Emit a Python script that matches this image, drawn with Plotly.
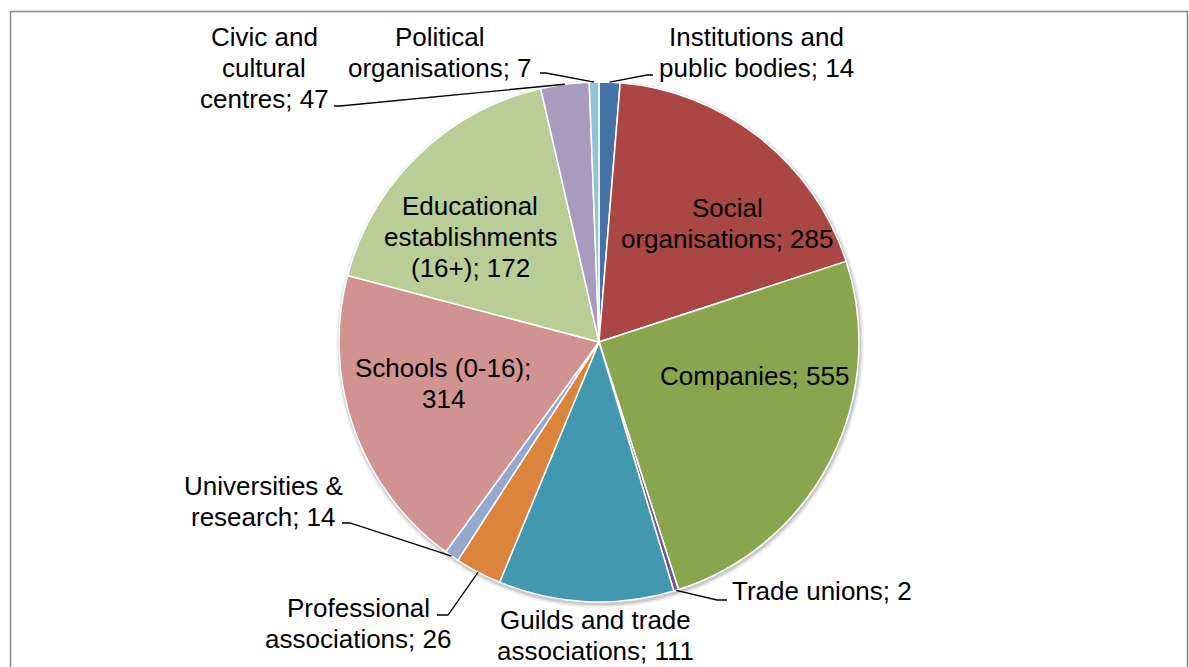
import textwrap
import math
import plotly.graph_objects as go

# ---------------- data ----------------
categories = [
    "Institutions and public bodies",
    "Social organisations",
    "Companies",
    "Trade unions",
    "Guilds and trade associations",
    "Professional associations",
    "Universities & research",
    "Schools (0-16)",
    "Educational establishments (16+)",
    "Civic and cultural centres",
    "Political organisations",
]
# numbers printed in the data labels
counts = [14, 285, 555, 2, 111, 26, 14, 314, 172, 47, 7]
# slice sizes as drawn in the picture (percent of the circle)
shares = [1.3, 18.7, 25.1, 0.3, 10.9, 2.9, 0.9, 19.1, 17.3, 3.0, 0.6]

colors = ["#4572A7", "#AA4643", "#89A54E", "#71588F", "#4198AF", "#DB843D",
          "#93A9CF", "#D19392", "#B9CD96", "#A99BBD", "#92C3D4"]

# ---------------- layout (pixels) ----------------
W, H = 1189, 667
CX, CY, R = 599, 342, 260
FONT = dict(family="Liberation Sans, Arial, sans-serif", size=26, color="black")
LINE_STEP = 31

# label placement: wrap width, anchor x, first-line centre y, xanchor, leader points (label side)
label_layout = [
    dict(wrap=17, x=756, y=37, xa="center", lead=[(653, 75), (647, 75)]),
    dict(wrap=18, x=727, y=208, xa="center", lead=None),
    dict(wrap=20, x=754, y=376, xa="center", lead=None),
    dict(wrap=20, x=730, y=591, xa="left", lead=[(727, 600), (717, 600)]),
    dict(wrap=17, x=595, y=620, xa="center", lead=None),
    dict(wrap=16, x=358, y=608, xa="center", lead=[(437, 615), (448, 615)]),
    dict(wrap=14, x=263, y=486, xa="center", lead=[(342, 523), (350, 523)]),
    dict(wrap=15, x=443, y=368, xa="center", lead=None),
    dict(wrap=14, x=470, y=206, xa="center", lead=None),
    dict(wrap=11, x=264, y=37, xa="center", lead=[(334, 106), (340, 106)]),
    dict(wrap=16, x=440, y=37, xa="center", lead=[(540, 73), (546, 73)]),
]


def px(x):
    return x / W


def py(y):
    return 1 - y / H


fig = go.Figure()
fig.add_trace(go.Pie(
    labels=categories,
    values=shares,
    customdata=counts,
    sort=False,
    direction="clockwise",
    rotation=0,
    textinfo="none",
    hovertemplate="%{label}; %{customdata}<extra></extra>",
    marker=dict(colors=colors, line=dict(color="white", width=1.5)),
    domain=dict(x=[px(CX - R), px(CX + R)], y=[py(CY + R), py(CY - R)]),
    showlegend=False,
))

annotations = []
shapes = []

# soft shadow behind the pie
for k, a in [(4, 0.05), (2.5, 0.07), (1.2, 0.10)]:
    shapes.append(dict(type="circle", xref="paper", yref="paper", layer="below",
                       x0=px(CX - R - k + 1), x1=px(CX + R + k + 1),
                       y0=py(CY + R + k + 2), y1=py(CY - R - k + 2),
                       line=dict(width=0), fillcolor=f"rgba(0,0,0,{a})"))

total = sum(shares)
cum = 0.0
for name, cnt, sh, lay in zip(categories, counts, shares, label_layout):
    mid = (cum + sh / 2) / total * 2 * math.pi
    cum += sh
    ex = CX + R * math.sin(mid)
    ey = CY - R * math.cos(mid)
    lines = textwrap.wrap(f"{name}; {cnt}", width=lay["wrap"], break_on_hyphens=False)
    for i, ln in enumerate(lines):
        annotations.append(dict(
            text=ln, x=px(lay["x"]), y=py(lay["y"] + i * LINE_STEP),
            xref="paper", yref="paper", xanchor=lay["xa"], yanchor="middle",
            showarrow=False, font=FONT))
    if lay["lead"]:
        pts = lay["lead"] + [(ex, ey)]
        path = "M " + " L ".join(f"{px(x):.5f},{py(y):.5f}" for x, y in pts)
        shapes.append(dict(type="path", xref="paper", yref="paper", path=path,
                           line=dict(color="black", width=1.3)))

# chart frame
shapes.append(dict(type="rect", xref="paper", yref="paper",
                   x0=px(10.5), x1=px(1187.5), y0=py(720), y1=py(11.5),
                   line=dict(color="#878787", width=1.5)))

fig.update_layout(
    width=W, height=H,
    margin=dict(l=0, r=0, t=0, b=0),
    paper_bgcolor="white", plot_bgcolor="white",
    annotations=annotations, shapes=shapes,
)

fig.write_html("out.html")
